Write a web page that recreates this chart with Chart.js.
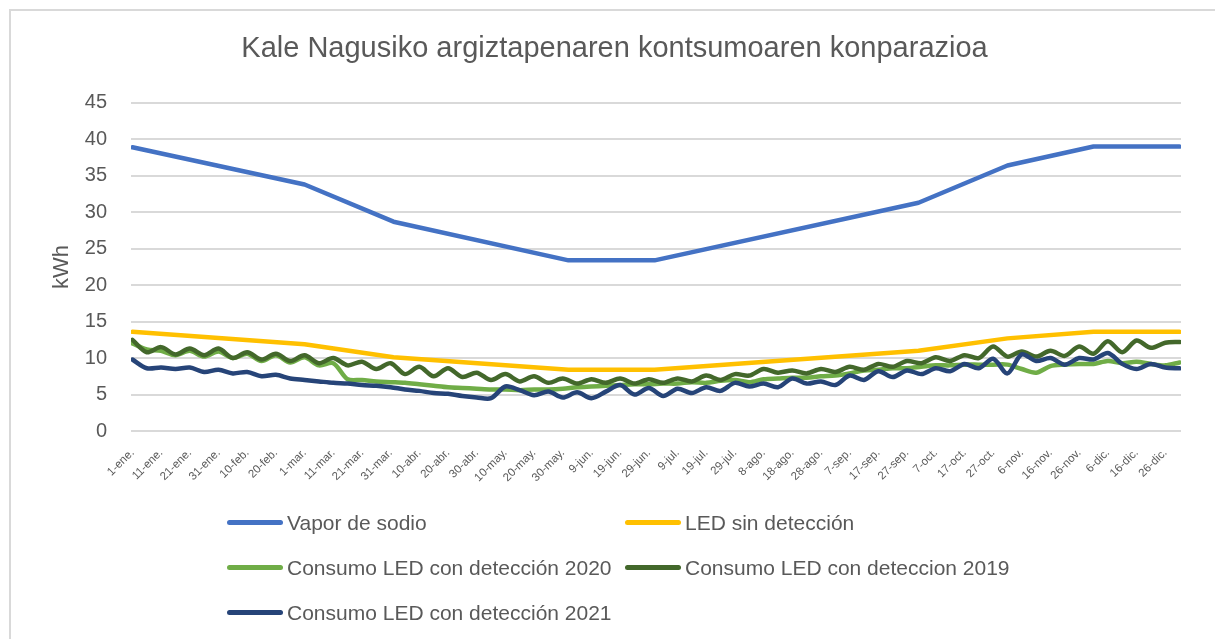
<!DOCTYPE html>
<html>
<head>
<meta charset="utf-8">
<title>Kale Nagusiko argiztapenaren kontsumoaren konparazioa</title>
<script src="https://cdn.jsdelivr.net/npm/chart.js@4.4.1/dist/chart.umd.min.js"></script>
<style>
  body { margin: 0; background: #fff; }
  #wrap { position: relative; width: 1215px; height: 639px; overflow: hidden; }
  #frame { position: absolute; left: 9px; top: 9px; width: 1240px; height: 680px; border: 2px solid #d9d9d9; }
  #myChart { position: absolute; left: 0; top: 0; }
  #legend { position: absolute; left: 227px; top: 500px; display: grid; grid-template-columns: 398px 398px; grid-auto-rows: 45px; }
  .item { display: flex; align-items: center; font-family: "Liberation Sans", Arial, sans-serif; font-size: 21px; color: #595959; white-space: nowrap; }
  .item span { display: inline-block; width: 56px; height: 5px; border-radius: 3px; margin-right: 4px; }
</style>
</head>
<body>
<div id="wrap">
  <div id="frame"></div>
  <canvas id="myChart" width="1215" height="639"></canvas>
  <div id="legend"></div>
</div>
<script>
// x axis labels, one every 10 days (2020 is a leap year, days 0..365)
var tickDays = [0, 10, 20, 30, 40, 50, 60, 70, 80, 90, 100, 110, 120, 130, 140, 150, 160, 170, 180,
  190, 200, 210, 220, 230, 240, 250, 260, 270, 280, 290, 300, 310, 320, 330, 340, 350, 360]
var tickLabels = ['1-ene.', '11-ene.', '21-ene.', '31-ene.', '10-feb.', '20-feb.', '1-mar.', '11-mar.',
  '21-mar.', '31-mar.', '10-abr.', '20-abr.', '30-abr.', '10-may.', '20-may.', '30-may.', '9-jun.',
  '19-jun.', '29-jun.', '9-jul.', '19-jul.', '29-jul.', '8-ago.', '18-ago.', '28-ago.', '7-sep.',
  '17-sep.', '27-sep.', '7-oct.', '17-oct.', '27-oct.', '6-nov.', '16-nov.', '26-nov.', '6-dic.',
  '16-dic.', '26-dic.']

// theoretical consumption, changes slope once a month
var curveDays = [0, 60, 91, 152, 182, 274, 305, 335, 365]
var vaporSodio = [38.9, 33.8, 28.7, 23.4, 23.4, 31.3, 36.4, 39.0, 39.0]
var ledSinDeteccion = [13.6, 11.9, 10.1, 8.4, 8.4, 11.0, 12.7, 13.6, 13.6]

// measured consumption, one value every 5 days
var measuredDays = []
for (var d = 0; d <= 365; d += 5) measuredDays.push(d)

var led2020 = [12.0, 11.2, 11.0, 10.4, 11.0, 10.2, 10.9, 10.0, 10.6, 9.6, 10.4, 9.4, 10.1, 9.0, 9.3, 7.1,
  7.0, 6.8, 6.7, 6.6, 6.4, 6.2, 6.0, 5.9, 5.8, 5.7, 5.7, 5.6, 5.7, 5.7, 5.8, 6.0, 6.1, 6.2, 6.3, 6.4,
  6.4, 6.5, 6.5, 6.7, 6.6, 6.9, 7.0, 6.7, 7.1, 7.2, 7.3, 7.3, 7.5, 7.6, 7.9, 8.3, 8.4, 8.6, 8.6, 8.8,
  9.0, 9.0, 9.1, 9.1, 9.1, 9.1, 8.5, 8.0, 8.9, 9.1, 9.2, 9.2, 9.6, 9.3, 9.5, 9.2, 9.0, 9.4]
var led2019 = [12.5, 10.8, 11.5, 10.5, 11.3, 10.4, 11.3, 10.0, 10.8, 9.8, 10.6, 9.6, 10.4, 9.3, 10.0, 9.0,
  9.5, 8.5, 9.3, 7.8, 8.8, 7.5, 8.6, 7.4, 8.0, 7.0, 7.8, 6.8, 7.5, 6.6, 7.2, 6.5, 7.1, 6.6, 7.2, 6.5,
  7.1, 6.6, 7.2, 6.8, 7.6, 7.0, 7.8, 7.6, 8.5, 8.0, 8.3, 7.9, 8.5, 8.1, 8.8, 8.4, 9.2, 8.8, 9.6, 9.3,
  10.1, 9.6, 10.4, 10.0, 11.6, 10.2, 10.9, 10.2, 11.0, 10.3, 11.6, 10.6, 12.3, 10.8, 12.4, 11.4, 12.1, 12.2]
var led2021 = [9.8, 8.6, 8.7, 8.5, 8.7, 8.1, 8.4, 7.9, 8.1, 7.5, 7.7, 7.2, 7.0, 6.8, 6.6, 6.5, 6.3, 6.2,
  6.0, 5.7, 5.5, 5.2, 5.1, 4.8, 4.6, 4.5, 6.1, 5.6, 4.9, 5.4, 4.6, 5.3, 4.5, 5.4, 6.3, 5.0, 5.9, 4.8,
  5.8, 5.2, 6.0, 5.5, 6.6, 6.1, 6.5, 6.0, 7.2, 6.5, 6.8, 6.3, 7.6, 7.0, 8.2, 7.4, 8.3, 7.8, 8.6, 8.2,
  9.2, 8.6, 9.9, 7.9, 10.5, 9.6, 10.0, 9.1, 10.0, 9.8, 10.7, 9.2, 8.5, 9.2, 8.7, 8.6]

function toPoints(days, values) {
  return values.map(function (v, i) { return { x: days[i], y: v } })
}

var textColor = '#595959'
var fontName = '"Liberation Sans", Arial, sans-serif'

var series = [
  { label: 'Vapor de sodio', data: toPoints(curveDays, vaporSodio), color: '#4472C4', order: 5, tension: 0 },
  { label: 'LED sin detección', data: toPoints(curveDays, ledSinDeteccion), color: '#FFC000', order: 4, tension: 0 },
  { label: 'Consumo LED con detección 2020', data: toPoints(measuredDays, led2020), color: '#70AD47', order: 3, tension: 0.3 },
  { label: 'Consumo LED con deteccion 2019', data: toPoints(measuredDays, led2019), color: '#43682B', order: 2, tension: 0.3 },
  { label: 'Consumo LED con detección 2021', data: toPoints(measuredDays, led2021), color: '#264478', order: 1, tension: 0.3 }
]

var ctx = document.getElementById('myChart').getContext('2d')
var chart = new Chart(ctx, {
  type: 'line',
  data: {
    datasets: series.map(function (s) {
      return {
        label: s.label,
        data: s.data,
        borderColor: s.color,
        backgroundColor: s.color,
        borderWidth: 4.5,
        borderCapStyle: 'round',
        borderJoinStyle: 'round',
        pointRadius: 0,
        tension: s.tension,
        order: s.order
      }
    })
  },
  options: {
    responsive: false,
    animation: false,
    layout: { padding: { left: 48, right: 34, top: 0, bottom: 0 } },
    plugins: {
      legend: { display: false },
      tooltip: { enabled: false },
      title: {
        display: true,
        text: 'Kale Nagusiko argiztapenaren kontsumoaren konparazioa',
        color: textColor,
        font: { family: fontName, size: 29, weight: 'normal' },
        padding: { top: 32, bottom: 36 }
      }
    },
    scales: {
      x: {
        type: 'linear',
        min: -0.5,
        max: 365.5,
        afterBuildTicks: function (scale) {
          scale.ticks = tickDays.map(function (v) { return { value: v } })
        },
        afterFit: function (scale) { scale.height = 208 },
        grid: { display: false },
        border: { display: false },
        ticks: {
          autoSkip: false,
          minRotation: 45,
          maxRotation: 45,
          padding: 7,
          color: textColor,
          font: { family: fontName, size: 11.5 },
          callback: function (value, index) { return tickLabels[index] }
        }
      },
      y: {
        min: 0,
        max: 45,
        afterFit: function (scale) { scale.width = 83 },
        border: { display: false },
        grid: { color: '#d9d9d9', lineWidth: 2, drawTicks: false },
        ticks: {
          stepSize: 5,
          padding: 24,
          color: textColor,
          font: { family: fontName, size: 20 }
        },
        title: {
          display: true,
          text: 'kWh',
          color: textColor,
          font: { family: fontName, size: 22 },
          padding: { top: 1 }
        }
      }
    }
  }
})

// legend in two columns under the chart
var legend = document.getElementById('legend')
series.forEach(function (s) {
  var item = document.createElement('div')
  item.className = 'item'
  var line = document.createElement('span')
  line.style.background = s.color
  item.appendChild(line)
  item.appendChild(document.createTextNode(s.label))
  legend.appendChild(item)
})
</script>
</body>
</html>
